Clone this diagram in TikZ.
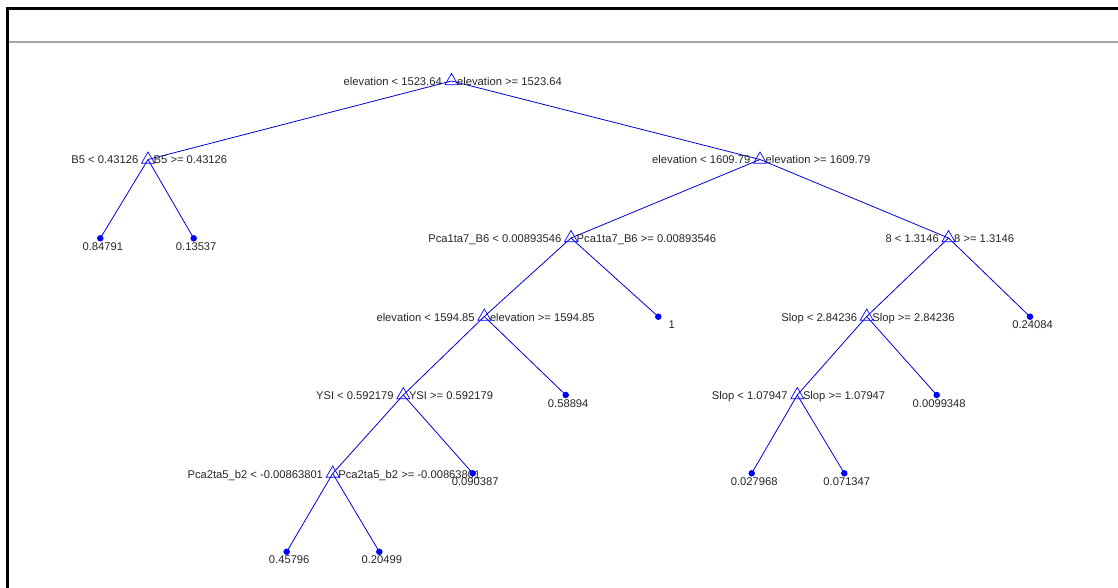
\documentclass[tikz,border=0pt]{standalone}
\usepackage{fontspec}
\setmainfont{Liberation Sans}
\usetikzlibrary{shapes.geometric}
\pgfdeclarelayer{bg}
\pgfsetlayers{bg,main}
\newcommand\splitnd[5]{%
  \node[splitmark] (#1) at (#2,#3) {};
  \node[lbl, anchor=base east] (#1L) at ([xshift=-9.5pt,yshift=-4.5pt]#1.center) {#4};
  \node[lbl, anchor=base west] (#1R) at ([xshift=5.5pt,yshift=-4.5pt]#1.center) {#5};}
\newcommand\leafnd[4]{%
  \node[leafmark] (#1) at (#2,#3) {};
  \node[lbl, anchor=base] (#1T) at ([xshift=2.5pt,yshift=-12pt]#1.center) {#4};}
\begin{document}
\begin{tikzpicture}[x=1pt,y=-1pt,
  splitmark/.style={regular polygon, regular polygon sides=3, draw=blue, minimum size=15pt, inner sep=0pt, line width=0.7pt},
  leafmark/.style={circle, fill=blue, minimum size=6.5pt, inner sep=0pt},
  edgeline/.style={draw=blue!85!black, line width=0.8pt},
  lbl/.style={font=\fontsize{11.2}{13}\selectfont, text=black!85, inner sep=0pt},
  frameline/.style={line width=3pt, black},
]
\useasboundingbox (0,0) rectangle (1118,588);
% frame
\draw[frameline] (7,588) -- (7,9) -- (1118,9);
\draw[line width=2pt, black!35] (8.5,42) -- (1118,42);
% tree
\splitnd{n0}{451.5}{81}{elevation < 1523.64}{elevation >= 1523.64}
\splitnd{n1}{148}{159.5}{B5 < 0.43126}{B5 >= 0.43126}
\splitnd{n2}{760}{159.5}{elevation < 1609.79}{elevation >= 1609.79}
\splitnd{n3}{571}{238}{Pca1ta7\_B6 < 0.00893546}{Pca1ta7\_B6 >= 0.00893546}
\splitnd{n4}{948.5}{238}{8 < 1.3146}{8 >= 1.3146}
\splitnd{n5}{484.3}{316.5}{elevation < 1594.85}{elevation >= 1594.85}
\splitnd{n6}{866.7}{316.5}{Slop < 2.84236}{Slop >= 2.84236}
\splitnd{n7}{403.3}{395}{YSI < 0.592179}{YSI >= 0.592179}
\splitnd{n8}{797.3}{395}{Slop < 1.07947}{Slop >= 1.07947}
\splitnd{n9}{332.7}{473.5}{Pca2ta5\_b2 < -0.00863801}{Pca2ta5\_b2 >= -0.00863801}
\leafnd{l1}{100.3}{238.3}{0.84791}
\leafnd{l2}{193.7}{238.3}{0.13537}
\node[leafmark] (l3) at (658.3,316.7) {};
\node[lbl, anchor=base] (l3T) at ([xshift=13.4pt,yshift=-11.5pt]l3.center) {1};
\leafnd{l4}{1030}{316.7}{0.24084}
\leafnd{l5}{565.7}{395}{0.58894}
\leafnd{l6}{936.7}{395}{0.0099348}
\leafnd{l7}{472.7}{473.3}{0.090387}
\leafnd{l8}{751.7}{473.3}{0.027968}
\leafnd{l9}{844.3}{473.3}{0.071347}
\leafnd{l10}{286.7}{551.8}{0.45796}
\leafnd{l11}{379.3}{551.8}{0.20499}
\begin{pgfonlayer}{bg}
\draw[edgeline] (n0.center) -- (n1.center);
\draw[edgeline] (n0.center) -- (n2.center);
\draw[edgeline] (n1.center) -- (l1.center);
\draw[edgeline] (n1.center) -- (l2.center);
\draw[edgeline] (n2.center) -- (n3.center);
\draw[edgeline] (n2.center) -- (n4.center);
\draw[edgeline] (n3.center) -- (n5.center);
\draw[edgeline] (n3.center) -- (l3.center);
\draw[edgeline] (n4.center) -- (n6.center);
\draw[edgeline] (n4.center) -- (l4.center);
\draw[edgeline] (n5.center) -- (n7.center);
\draw[edgeline] (n5.center) -- (l5.center);
\draw[edgeline] (n6.center) -- (n8.center);
\draw[edgeline] (n6.center) -- (l6.center);
\draw[edgeline] (n7.center) -- (n9.center);
\draw[edgeline] (n7.center) -- (l7.center);
\draw[edgeline] (n8.center) -- (l8.center);
\draw[edgeline] (n8.center) -- (l9.center);
\draw[edgeline] (n9.center) -- (l10.center);
\draw[edgeline] (n9.center) -- (l11.center);
\end{pgfonlayer}
\end{tikzpicture}
\end{document}
